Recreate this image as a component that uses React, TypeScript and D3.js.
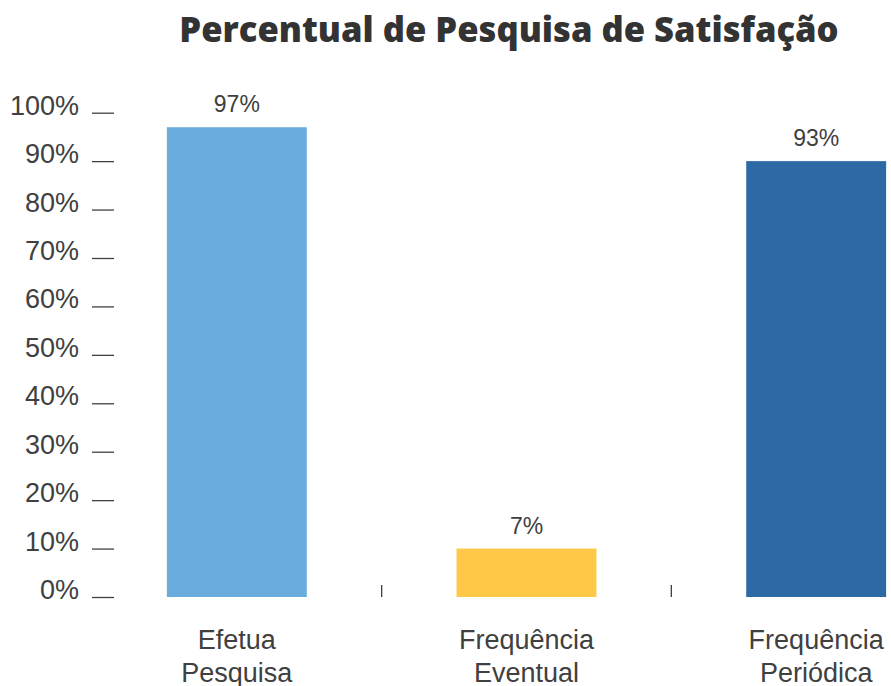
import React, { useRef, useEffect } from "react";
import * as d3 from "d3";

const categories = ["Efetua Pesquisa", "Frequência Eventual", "Frequência Periódica"];
const categoryLines = [["Efetua", "Pesquisa"], ["Frequência", "Eventual"], ["Frequência", "Periódica"]];
const barValues = [97, 10, 90];
const barLabels = ["97%", "7%", "93%"];
const barColors = ["#69acdd", "#ffc846", "#2c69a5"];
const yTicks = [0, 10, 20, 30, 40, 50, 60, 70, 80, 90, 100];

const App = () => {
    const svgRef = useRef<SVGSVGElement>(null);
    const width = 891;
    const height = 686;

    useEffect(() => {
        const svg = d3.select(svgRef.current);
        svg.selectAll("*").remove();

        // plot area runs past the right edge, like the original
        const xScale = d3
            .scaleBand()
            .domain(categories)
            .range([92, 961])
            .paddingInner(0.517)
            .paddingOuter(0.2585);

        const yScale = d3.scaleLinear().domain([0, 100]).range([597, 112.7]);

        const textColor = "#404040";

        // title
        svg
            .append("text")
            .attr("x", 509)
            .attr("y", 42)
            .attr("text-anchor", "middle")
            .attr("font-family", "'Open Sans', sans-serif")
            .attr("font-weight", 800)
            .attr("font-size", "34.6px")
            .attr("fill", "#333333")
            .text("Percentual de Pesquisa de Satisfação");

        // y axis: short tick marks, no domain line
        const yAxis = svg
            .append("g")
            .attr("transform", "translate(114,0)")
            .call(
                d3
                    .axisLeft(yScale)
                    .tickValues(yTicks)
                    .tickSize(22)
                    .tickPadding(13)
                    .tickFormat((d) => `${d}%`)
            );
        yAxis.select(".domain").remove();
        yAxis.selectAll("line").attr("stroke", textColor).attr("stroke-width", 1.3);
        yAxis
            .selectAll("text")
            .attr("dy", "1.5")
            .attr("fill", textColor)
            .attr("font-family", "'Liberation Sans', Arial, sans-serif")
            .attr("font-size", "27px");

        // bars
        svg
            .append("g")
            .selectAll("rect")
            .data(categories)
            .join("rect")
            .attr("x", (d) => xScale(d))
            .attr("y", (d, i) => yScale(barValues[i]))
            .attr("width", xScale.bandwidth())
            .attr("height", (d, i) => yScale(0) - yScale(barValues[i]))
            .attr("fill", (d, i) => barColors[i]);

        // data labels
        svg
            .append("g")
            .selectAll("text")
            .data(categories)
            .join("text")
            .attr("x", (d) => xScale(d) + xScale.bandwidth() / 2)
            .attr("y", (d, i) => yScale(barValues[i]) - 15)
            .attr("text-anchor", "middle")
            .attr("font-family", "'Liberation Sans', Arial, sans-serif")
            .attr("font-size", "23px")
            .attr("fill", textColor)
            .text((d, i) => barLabels[i]);

        // category separator ticks (between bands only)
        const gap = xScale.step() - xScale.bandwidth();
        svg
            .append("g")
            .selectAll("line")
            .data(categories.slice(1))
            .join("line")
            .attr("x1", (d) => xScale(d) - gap / 2)
            .attr("x2", (d) => xScale(d) - gap / 2)
            .attr("y1", yScale(0) - 12)
            .attr("y2", yScale(0))
            .attr("stroke", textColor)
            .attr("stroke-width", 1.3);

        // category labels, two lines each
        svg
            .append("g")
            .selectAll("text")
            .data(categories)
            .join("text")
            .attr("x", (d) => xScale(d) + xScale.bandwidth() / 2)
            .attr("y", 649)
            .attr("text-anchor", "middle")
            .attr("font-family", "'Liberation Sans', Arial, sans-serif")
            .attr("font-size", "27px")
            .attr("fill", textColor)
            .each(function (d, i) {
                const el = d3.select(this);
                const cx = xScale(d) + xScale.bandwidth() / 2;
                categoryLines[i].forEach((line, j) => {
                    el.append("tspan")
                        .attr("x", cx)
                        .attr("dy", j === 0 ? 0 : 33)
                        .text(line);
                });
            });
    }, []);

    return (
        <svg
            ref={svgRef}
            width={width}
            height={height}
            style={{ position: "absolute", left: 0, top: 0, background: "#ffffff" }}
        ></svg>
    );
};

export default App;
